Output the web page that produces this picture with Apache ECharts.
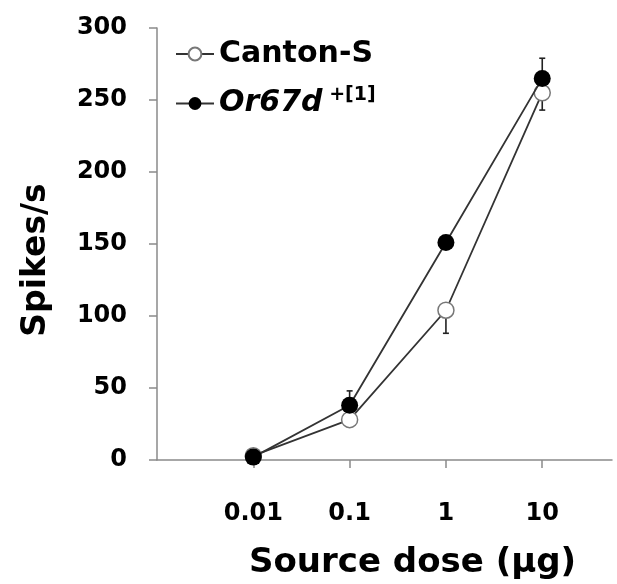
<!DOCTYPE html>
<html>
<head>
<meta charset="utf-8">
<script src="https://cdn.jsdelivr.net/npm/echarts@6/dist/echarts.min.js"></script>
<style>
html,body{margin:0;padding:0;background:#fff;}
#c{width:617px;height:584px;}
</style>
</head>
<body>
<div id="c"></div>
<script>
const doses = [0.01, 0.1, 1, 10];
const doseLabels = ['0.01', '0.1', '1', '10'];
const yTicks = [0, 50, 100, 150, 200, 250, 300];
const cantonS = [3, 28, 104, 255];
const cantonSErrLow = [1, 2, 16, 12];
const or67d = [2, 38, 151, 265];
const or67dErrHigh = [1, 10, 2, 14];

const FONT = 'DejaVu Sans';
const chart = echarts.init(document.getElementById('c'));

function errData(vals, errs, dir) {
  return doses.map((d, i) => [d, vals[i], vals[i] + dir * errs[i]]);
}
function errRender(params, api) {
  const x = api.value(0);
  const p0 = api.coord([x, api.value(1)]);
  const p1 = api.coord([x, api.value(2)]);
  const hw = 3;
  return {
    type: 'group',
    children: [
      {type: 'line', shape: {x1: p0[0], y1: p0[1], x2: p1[0], y2: p1[1]}, style: {stroke: '#222', lineWidth: 1.6}},
      {type: 'line', shape: {x1: p1[0] - hw, y1: p1[1], x2: p1[0] + hw, y2: p1[1]}, style: {stroke: '#222', lineWidth: 1.6}}
    ]
  };
}

chart.setOption({
  animation: false,
  backgroundColor: '#fff',
  grid: {left: 157, right: 5, top: 28, bottom: 124, containLabel: false, outerBoundsMode: 'none'},
  legend: {
    orient: 'vertical',
    left: 170,
    top: 34,
    itemWidth: 38,
    itemHeight: 16,
    itemGap: 17,
    data: ['Canton-S', 'Or67d'],
    formatter: function (name) {
      return name === 'Or67d' ? '{it|Or67d}{sup| +[1]}' : '{b|' + name + '}';
    },
    textStyle: {
      fontFamily: FONT, fontWeight: 'bold', fontSize: 30, color: '#000',
      rich: {
        b: {fontFamily: FONT, fontWeight: 'bold', fontSize: 30, color: '#000'},
        it: {fontFamily: FONT, fontWeight: 'bold', fontStyle: 'italic', fontSize: 30, color: '#000'},
        sup: {fontFamily: FONT, fontWeight: 'bold', fontSize: 19, color: '#000', padding: [0, 0, 16, 0]}
      }
    }
  },
  xAxis: {
    type: 'log',
    logBase: 10,
    min: 0.001,
    max: 53,
    name: 'Source dose (µg)',
    nameLocation: 'middle',
    nameGap: 86,
    nameTextStyle: {fontFamily: FONT, fontWeight: 'bold', fontSize: 34, color: '#000', padding: [0, 0, 0, 56]},
    axisLine: {lineStyle: {color: '#8a8a8a', width: 1.5}},
    axisTick: {length: 8, lineStyle: {color: '#8a8a8a', width: 1.5}, customValues: doses},
    axisLabel: {
      customValues: doses,
      margin: 42,
      fontFamily: FONT, fontWeight: 'bold', fontSize: 24, color: '#000',
      formatter: function (v) {
        for (let i = 0; i < doses.length; i++) {
          if (Math.abs(Math.log10(v) - Math.log10(doses[i])) < 1e-6) return doseLabels[i];
        }
        return '';
      }
    },
    splitLine: {show: false}
  },
  yAxis: {
    type: 'value',
    min: yTicks[0],
    max: yTicks[yTicks.length - 1],
    interval: 50,
    name: 'Spikes/s',
    nameLocation: 'middle',
    nameGap: 104,
    nameTextStyle: {fontFamily: FONT, fontWeight: 'bold', fontSize: 33, color: '#000', padding: [0, 32, 0, 0]},
    axisLine: {show: true, lineStyle: {color: '#8a8a8a', width: 1.5}},
    axisTick: {show: true, length: 8, lineStyle: {color: '#8a8a8a', width: 1.5}},
    axisLabel: {margin: 30, fontFamily: FONT, fontWeight: 'bold', fontSize: 24, color: '#000'},
    splitLine: {show: false}
  },
  series: [
    {
      name: 'Canton-S-err', type: 'custom', renderItem: errRender,
      data: errData(cantonS, cantonSErrLow, -1), z: 1, silent: true
    },
    {
      name: 'Or67d-err', type: 'custom', renderItem: errRender,
      data: errData(or67d, or67dErrHigh, 1), z: 1, silent: true
    },
    {
      name: 'Canton-S', type: 'line',
      data: doses.map((d, i) => [d, cantonS[i]]),
      symbol: 'circle', symbolSize: 16,
      lineStyle: {color: '#333', width: 1.8},
      itemStyle: {color: '#fff', borderColor: '#777', borderWidth: 1.5},
      z: 3
    },
    {
      name: 'Or67d', type: 'line',
      data: doses.map((d, i) => [d, or67d[i]]),
      symbol: 'circle', symbolSize: 17,
      lineStyle: {color: '#333', width: 1.8},
      itemStyle: {color: '#000', borderColor: '#000', borderWidth: 0},
      z: 4
    }
  ]
});
</script>
</body>
</html>
